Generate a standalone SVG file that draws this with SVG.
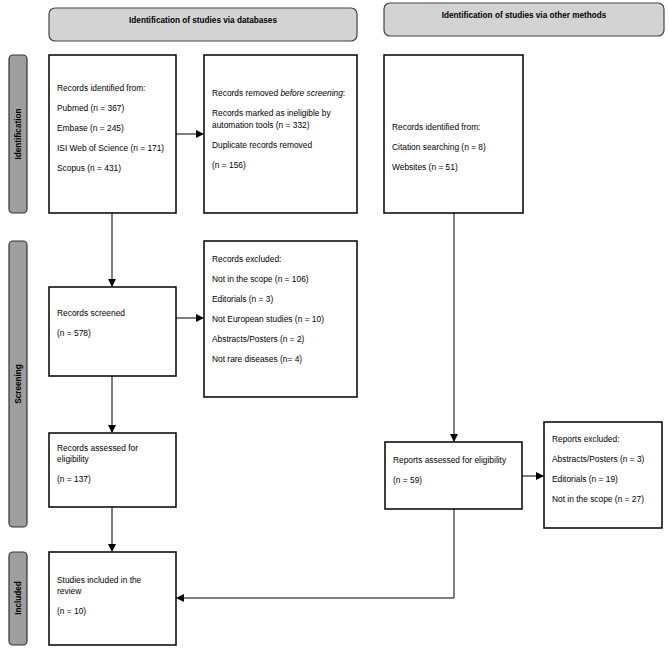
<svg xmlns="http://www.w3.org/2000/svg" width="669" height="648" viewBox="0 0 669 648">
<style>
.b{fill:#fff;stroke:#000;stroke-width:1.5}
.h{fill:#d3d3d3;stroke:#444;stroke-width:1.2}
.s{fill:#9e9e9e;stroke:#333;stroke-width:1.2}
text{font-family:"Liberation Sans",Arial,sans-serif;font-size:8.4px;fill:#000}
.hd{font-weight:bold;font-size:8.2px}
.sd{font-weight:bold;font-size:8.2px}
.c{stroke:#000;stroke-width:1;fill:none}
</style>
<defs><marker id="a" markerWidth="8" markerHeight="8" refX="7" refY="4" orient="auto" markerUnits="userSpaceOnUse"><path d="M0,0L8,4L0,8z" fill="#000"/></marker></defs>
<g id="hdr1"><rect class="h" x="49" y="8" width="308" height="33" rx="6"/><text class="hd" x="203" y="23" text-anchor="middle">Identification of studies via databases</text></g>
<g id="hdr2"><rect class="h" x="384" y="3" width="280" height="33" rx="6"/><text class="hd" x="524" y="18" text-anchor="middle">Identification of studies via other methods</text></g>
<g id="sid1"><rect class="s" x="9" y="55" width="18" height="158" rx="4"/><text class="sd" transform="translate(21,134) rotate(-90)" text-anchor="middle">Identification</text></g>
<g id="sid2"><rect class="s" x="9" y="241" width="18" height="286" rx="4"/><text class="sd" transform="translate(21,384) rotate(-90)" text-anchor="middle">Screening</text></g>
<g id="sid3"><rect class="s" x="9" y="552" width="18" height="93" rx="4"/><text class="sd" transform="translate(21,598) rotate(-90)" text-anchor="middle">Included</text></g>
<g id="A"><rect class="b" x="49" y="55" width="127" height="158"/><text x="57" y="91">Records identified from:</text><text x="57" y="111">Pubmed (n = 367)</text><text x="57" y="131">Embase (n = 245)</text><text x="57" y="151">ISI Web of Science (n = 171)</text><text x="57" y="171">Scopus (n = 431)</text></g>
<g id="B"><rect class="b" x="204" y="55" width="153" height="158"/><text x="212" y="96">Records removed <tspan font-style="italic">before screening</tspan>:</text><text x="212" y="116">Records marked as ineligible by</text><text x="212" y="128">automation tools (n = 332)</text><text x="212" y="148">Duplicate records removed</text><text x="212" y="168">(n = 156)</text></g>
<g id="C"><rect class="b" x="384" y="55" width="139" height="158"/><text x="392" y="130">Records identified from:</text><text x="392" y="150">Citation searching (n = 8)</text><text x="392" y="170">Websites (n = 51)</text></g>
<g id="D"><rect class="b" x="49" y="287" width="127" height="89"/><text x="57" y="316">Records screened</text><text x="57" y="336">(n = 578)</text></g>
<g id="E"><rect class="b" x="204" y="241" width="153" height="156"/><text x="212" y="262">Records excluded:</text><text x="212" y="282">Not in the scope (n = 106)</text><text x="212" y="302">Editorials (n = 3)</text><text x="212" y="322">Not European studies (n = 10)</text><text x="212" y="342">Abstracts/Posters (n = 2)</text><text x="212" y="362">Not rare diseases (n= 4)</text></g>
<g id="F"><rect class="b" x="49" y="433" width="127" height="74"/><text x="57" y="451">Records assessed for</text><text x="57" y="462">eligibility</text><text x="57" y="482">(n = 137)</text></g>
<g id="G"><rect class="b" x="385" y="442" width="137" height="67"/><text x="393" y="463">Reports assessed for eligibility</text><text x="393" y="483">(n = 59)</text></g>
<g id="H"><rect class="b" x="544" y="422" width="118" height="106"/><text x="552" y="442">Reports excluded:</text><text x="552" y="462">Abstracts/Posters (n = 3)</text><text x="552" y="482">Editorials (n = 19)</text><text x="552" y="502">Not in the scope (n = 27)</text></g>
<g id="I"><rect class="b" x="49" y="552" width="127" height="93"/><text x="57" y="583">Studies included in the</text><text x="57" y="594">review</text><text x="57" y="614">(n = 10)</text></g>
<g id="connectors">
<path class="c" d="M176,134H203" marker-end="url(#a)"/>
<path class="c" d="M112,213V286" marker-end="url(#a)"/>
<path class="c" d="M176,318H203" marker-end="url(#a)"/>
<path class="c" d="M112,376V432" marker-end="url(#a)"/>
<path class="c" d="M112,507V551" marker-end="url(#a)"/>
<path class="c" d="M454,213V441" marker-end="url(#a)"/>
<path class="c" d="M522,476H543" marker-end="url(#a)"/>
<path class="c" d="M454,509V598H177" marker-end="url(#a)"/>
</g>
</svg>
